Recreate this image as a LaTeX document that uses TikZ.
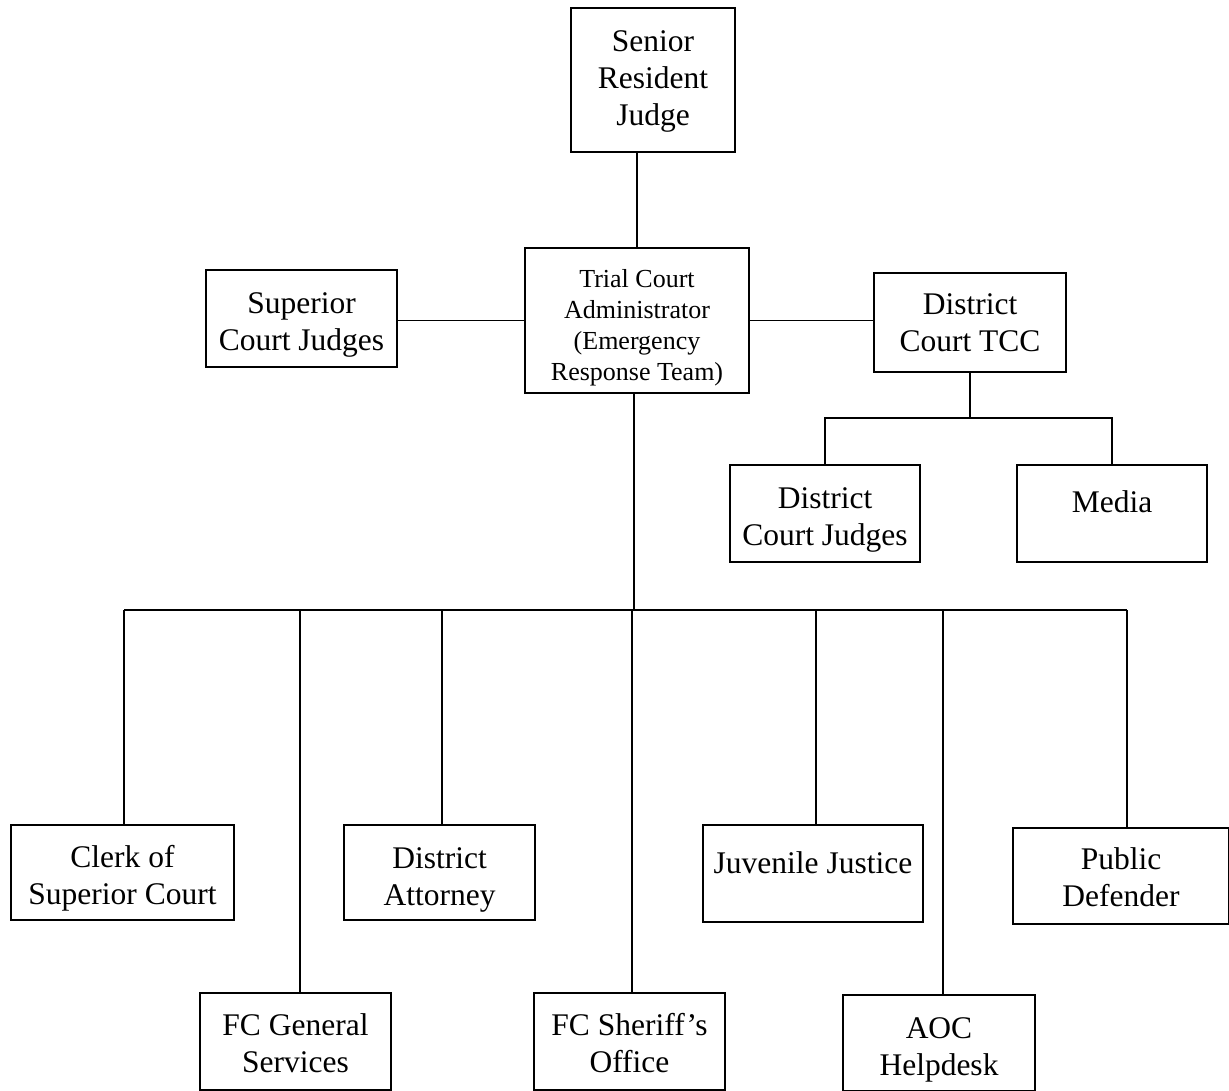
\documentclass[tikz,border=0pt]{standalone}
\usepackage{fontspec}
\setmainfont{Liberation Serif}
\newcommand{\boxlines}[2][6pt]{\raisebox{-#1}[\height][\depth]{\begin{tabular}{@{}c@{}}#2\end{tabular}}}
\tikzset{
  unit/.style={draw, line width=1.7pt, inner sep=0pt,
    font=\fontsize{31.5}{37}\selectfont},
  tcabox/.style={unit, font=\fontsize{26}{31}\selectfont},
  link/.style={line width=1.7pt}
}
\begin{document}
\begin{tikzpicture}[x=1pt,y=-1pt]
  \useasboundingbox (0,0) rectangle (1229,1091);

  % top of the chart
  \node[unit, minimum width=164pt, minimum height=144pt] (srj) at (653,80) {\boxlines[1pt]{Senior\\Resident\\Judge}};
  \node[tcabox, minimum width=224pt, minimum height=145pt] (tca) at (637,320.5) {\boxlines[7pt]{Trial Court\\Administrator\\(Emergency\\Response Team)}};
  \node[unit, minimum width=191pt, minimum height=97pt] (scj) at (301.5,318.5) {\boxlines[6pt]{Superior\\Court Judges}};
  \node[unit, minimum width=192pt, minimum height=99pt] (dtcc) at (970,322.5) {\boxlines[3pt]{District\\Court TCC}};

  % district court side
  \node[unit, minimum width=190pt, minimum height=97pt] (dcj) at (825,513.5) {\boxlines{District\\Court Judges}};
  \node[unit, minimum width=190pt, minimum height=97pt] (media) at (1112,513.5) {\boxlines[10pt]{Media\\\mbox{}}};

  % lower row
  \node[unit, minimum width=223pt, minimum height=95pt] (clerk) at (122.5,872.5) {\boxlines{Clerk of\\Superior Court}};
  \node[unit, minimum width=191pt, minimum height=95pt] (da) at (439.5,872.5) {\boxlines[7pt]{District\\Attorney}};
  \node[unit, minimum width=220pt, minimum height=97pt] (jj) at (813,873.5) {\boxlines[11pt]{Juvenile Justice\\\mbox{}}};
  \node[unit, minimum width=216pt, minimum height=96pt] (pd) at (1121,876) {\boxlines[5pt]{Public\\Defender}};

  % bottom row
  \node[unit, minimum width=191pt, minimum height=97pt] (fcgs) at (295.5,1041.5) {\boxlines[5pt]{FC General\\Services}};
  \node[unit, minimum width=191pt, minimum height=97pt] (fcso) at (629.5,1041.5) {\boxlines[5pt]{FC Sheriff's\\Office}};
  \node[unit, minimum width=192pt, minimum height=96pt] (aoc) at (939,1043) {\boxlines[7pt]{AOC\\Helpdesk}};

  \coordinate (bus) at (634,610);
  \coordinate (dbus) at (970,418);

  % connectors
  \draw[link] (tca.north) -- (tca.north |- srj.south);
  \draw[link] (tca.west) -- (scj.east |- tca.west);
  \draw[link] (tca.east) -- (dtcc.west |- tca.east);

  \draw[link] (dtcc.south) -- (dbus);
  \draw[link] (dcj.north) -- (dcj.north |- dbus) -- (media.north |- dbus) -- (media.north);

  \draw[link] ([xshift=-3pt]tca.south) -- (bus);
  \draw[link] ([xshift=1.5pt]clerk.north |- bus) -- ([xshift=6pt]pd.north |- bus);
  \foreach \n/\d in {clerk/1.5, fcgs/4.5, da/2.5, fcso/2.5, jj/3, aoc/4, pd/6}
    \draw[link] ([xshift=\d pt]\n.north) -- ([xshift=\d pt]\n.north |- bus);

\end{tikzpicture}
\end{document}
